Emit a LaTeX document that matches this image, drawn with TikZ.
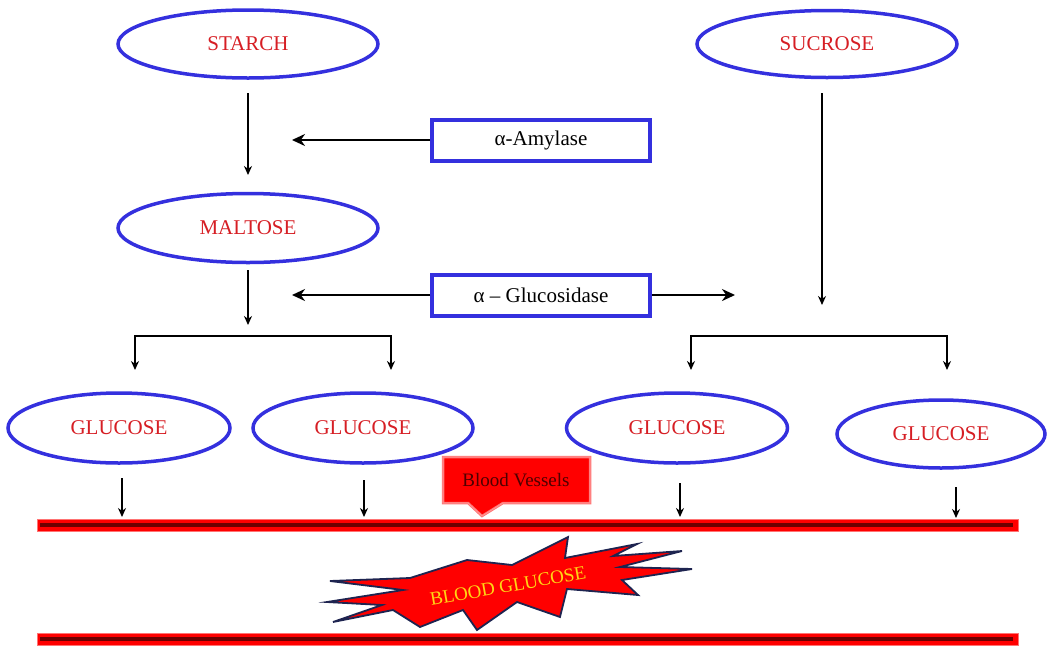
\documentclass[tikz,border=0pt]{standalone}
\usepackage{fontspec}
\setmainfont{Liberation Serif}
\usetikzlibrary{shapes.geometric,arrows.meta}
\definecolor{eblue}{RGB}{52,48,222}
\definecolor{tred}{RGB}{214,30,36}
\definecolor{navy}{RGB}{30,36,80}
\definecolor{gold}{RGB}{255,214,20}
\definecolor{dkred}{RGB}{110,0,0}
\tikzset{
  ell/.style={ellipse, draw=eblue, line width=3.5pt, text=tred, inner sep=0pt,
    font=\fontsize{21}{24}\selectfont},
  enz/.style={rectangle, draw=eblue, line width=4pt, fill=white, minimum width=218pt,
    minimum height=41pt, inner sep=0pt, font=\fontsize{21}{24}\selectfont},
  arr/.style={line width=1.8pt, -{Stealth[length=9pt,width=8pt]}},
  bigarr/.style={line width=2.8pt, -{Stealth[length=13pt,width=12pt]}},
  bar/.style={fill=red, draw=red!55, line width=0.8pt},
  stripe/.style={draw=dkred, line width=3.5pt},
}
\begin{document}
\begin{tikzpicture}[x=1pt,y=-1pt]
\useasboundingbox (0,0) rectangle (1047,646);
% main nodes
\node[ell, minimum width=260pt, minimum height=68pt] (starch) at (248,44) {STARCH};
\node[ell, minimum width=260pt, minimum height=67pt] (sucrose) at (827,44) {SUCROSE};
\node[ell, minimum width=260pt, minimum height=69pt] (maltose) at (248,228) {MALTOSE};
\node[ell, minimum width=222pt, minimum height=70pt] (g1) at (119,428) {GLUCOSE};
\node[ell, minimum width=220pt, minimum height=70pt] (g2) at (363,428) {GLUCOSE};
\node[ell, minimum width=221pt, minimum height=70pt] (g3) at (677,428) {GLUCOSE};
\node[ell, minimum width=208pt, minimum height=68pt] (g4) at (941,434) {GLUCOSE};
\node[enz] (amy) at (541,140) {α-Amylase};
\node[enz] (glc) at (541,295) {α – Glucosidase};
% coordinates
\coordinate (s1) at (248,93);
\coordinate (s2) at (248,175);
\coordinate (m1) at (248,270);
\coordinate (m2) at (248,325);
\coordinate (u1) at (822,93);
\coordinate (u2) at (822,305);
\coordinate (amyL) at (292,140);
\coordinate (glcL) at (292,295);
\coordinate (glcR) at (735,295);
\coordinate (bl1) at (135,370);
\coordinate (bl2) at (391,370);
\coordinate (br1) at (691,370);
\coordinate (br2) at (947,370);
% arrows
\draw[arr] (s1) -- (s2);
\draw[arr] (m1) -- (m2);
\draw[arr] (u1) -- (u2);
\draw[bigarr] (amy.west) -- (amyL);
\draw[bigarr] (glc.west) -- (glcL);
\draw[bigarr] (glc.east) -- (glcR);
\draw[line width=2.2pt, {Stealth[length=9pt,width=8pt]}-{Stealth[length=9pt,width=8pt]}]
  (bl1) -- (135,336) -- (391,336) -- (bl2);
\draw[line width=2.2pt, {Stealth[length=9pt,width=8pt]}-{Stealth[length=9pt,width=8pt]}]
  (br1) -- (691,336) -- (947,336) -- (br2);
% blood vessel bars
\draw[bar] (37,519) rectangle (1018,531);
\draw[stripe] (40,525) -- (1013,525);
\draw[bar] (37,633) rectangle (1018,645);
\draw[stripe] (40,639) -- (1013,639);
\coordinate (d1) at (122,478); \coordinate (e1) at (122,517);
\coordinate (d2) at (364,480); \coordinate (e2) at (364,517);
\coordinate (d3) at (680,483); \coordinate (e3) at (680,517);
\coordinate (d4) at (956,487); \coordinate (e4) at (956,518);
\draw[arr] (d1) -- (e1);
\draw[arr] (d2) -- (e2);
\draw[arr] (d3) -- (e3);
\draw[arr] (d4) -- (e4);
% callout
\draw[fill=red, draw=red!55, double=white!60!red, double distance=0.7pt, line width=0.9pt]
  (443,457) -- (590,457) -- (590,503) -- (503,503) -- (482,516) -- (468,503) -- (443,503) -- cycle;
\node[text=dkred!70!black, font=\fontsize{19}{22}\selectfont] (bv) at (516,480) {Blood Vessels};
% explosion
\draw[fill=red, draw=navy, line width=1.8pt, line join=miter]
  (330,581) -- (410,578) -- (467,560) -- (512,565) -- (568,537) -- (565,558)
  -- (637,544) -- (613,556) -- (682,551) -- (620,567) -- (692,569) -- (622,580)
  -- (638,595) -- (567,589) -- (560,617) -- (517,602) -- (477,630) -- (463,610)
  -- (420,627) -- (393,610) -- (333,622) -- (382,605) -- (327,602) -- (403,590) -- cycle;
\node[text=gold, rotate=10, font=\fontsize{19}{22}\selectfont] (bg) at (508,586) {BLOOD GLUCOSE};
\end{tikzpicture}
\end{document}
